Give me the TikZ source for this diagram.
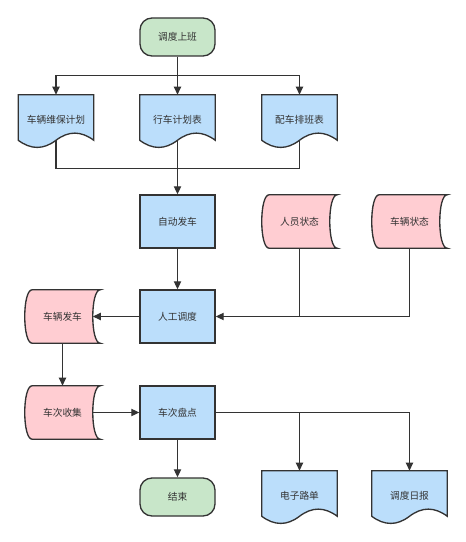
\documentclass[tikz,border=0pt]{standalone}
\usepackage{fontspec}
\setmainfont{Noto Sans CJK SC}
\usetikzlibrary{arrows.meta,calc}
\newcommand\pxu{0.75pt}
\definecolor{lc}{HTML}{333333}
\definecolor{gfill}{HTML}{C8E6C9}
\definecolor{bfill}{HTML}{BBDEFB}
\definecolor{pfill}{HTML}{FFCDD2}
\definecolor{tc}{HTML}{333333}
\begin{document}
\begin{tikzpicture}[x=0.75pt,y=-0.75pt,
  base/.style={inner sep=0pt, font=\fontsize{7.3}{8}\selectfont, text=tc, minimum width=75*\pxu},
  term/.style={base, draw=lc, line width=1pt, fill=gfill, rounded corners=12*\pxu, minimum height=38*\pxu},
  proc/.style={base, draw=lc, line width=1pt, fill=bfill, minimum height=53*\pxu},
  docnode/.style={base, minimum height=45*\pxu},
  sdnode/.style={base, minimum height=53*\pxu},
  docshape/.style={draw=lc, line width=1pt, fill=bfill},
  sdshape/.style={draw=lc, line width=1pt, fill=pfill},
  conn/.style={draw=lc, line width=0.95pt},
  arr/.style={conn, -{Triangle[length=6pt,width=5.4pt]}}
]
\useasboundingbox[fill=white] (0,0) rectangle (466,542);

\newcommand\docpath[1]{%
  \path[docshape] (#1.south west) -- (#1.north west) -- (#1.north east) -- (#1.south east)
    .. controls ($(#1.south)+(25,-9.53)$) and ($(#1.south)+(12.5,-9.53)$) .. (#1.south)
    .. controls ($(#1.south)+(-12.5,9.53)$) and ($(#1.south)+(-25,9.53)$) .. (#1.south west) -- cycle;}
\newcommand\sdpath[1]{%
  \path[sdshape] ($(#1.north west)+(7.5,0)$) -- (#1.north east)
    .. controls ($(#1.north east)+(-10,0)$) and ($(#1.south east)+(-10,0)$) .. (#1.south east)
    -- ($(#1.south west)+(7.5,0)$)
    .. controls ($(#1.south west)+(-2.5,0)$) and ($(#1.north west)+(-2.5,0)$) .. ($(#1.north west)+(7.5,0)$) -- cycle;}

\node[term] (start) at (177.5,37) {调度上班};

\node[docnode] (doc1) at (56,117.5) {};
\node[docnode] (doc2) at (177.5,117.5) {};
\node[docnode] (doc3) at (299.5,117.5) {};
\docpath{doc1}\docpath{doc2}\docpath{doc3}
\node[base] at ([yshift=-1.5pt]doc1.center) {车辆维保计划};
\node[base] at ([yshift=-1.5pt]doc2.center) {行车计划表};
\node[base] at ([yshift=-1.5pt]doc3.center) {配车排班表};

\node[proc] (auto) at (177.5,221.5) {自动发车};
\node[sdnode] (ppl) at (299.5,221.5) {};
\node[sdnode] (vst) at (409.5,221.5) {};
\sdpath{ppl}\sdpath{vst}
\node[base] at (ppl) {人员状态};
\node[base] at (vst) {车辆状态};

\node[proc] (man) at (177.5,316.5) {人工调度};
\node[sdnode] (vdep) at (62.5,316.5) {};
\sdpath{vdep}
\node[base] at (vdep) {车辆发车};

\node[sdnode] (coll) at (62.5,412.5) {};
\sdpath{coll}
\node[base] at (coll) {车次收集};
\node[proc] (cnt) at (177.5,412.5) {车次盘点};

\node[term] (end) at (177.5,497) {结束};
\node[docnode] (doc4) at (299.5,493.5) {};
\node[docnode] (doc5) at (409.5,493.5) {};
\docpath{doc4}\docpath{doc5}
\node[base] at ([yshift=-1.5pt]doc4.center) {电子路单};
\node[base] at ([yshift=-1.5pt]doc5.center) {调度日报};

% connectors
\coordinate (split) at (177.5,75.5);
\coordinate (merge) at (177.5,168.5);
\draw[arr] (start.south) -- (doc2.north);
\draw[arr] (split) -| (doc1.north);
\draw[arr] (split) -| (doc3.north);
\draw[conn] (doc1.south) |- (merge);
\draw[conn] (doc3.south) |- (merge);
\draw[arr] (doc2.south) -- (auto.north);
\draw[arr] (auto.south) -- (man.north);
\draw[conn] (ppl.south) -- (ppl.south |- man.east);
\draw[arr] (vst.south) |- (man.east);
\draw[arr] (man.west) -- ($(vdep.east)+(-7.5,0)$);
\draw[arr] (vdep.south) -- (coll.north);
\draw[arr] ($(coll.east)+(-7.5,0)$) -- (cnt.west);
\draw[arr] (cnt.south) -- (end.north);
\draw[arr] (cnt.east) -| (doc5.north);
\draw[arr] (cnt.east -| doc4.north) -- (doc4.north);
\end{tikzpicture}
\end{document}
